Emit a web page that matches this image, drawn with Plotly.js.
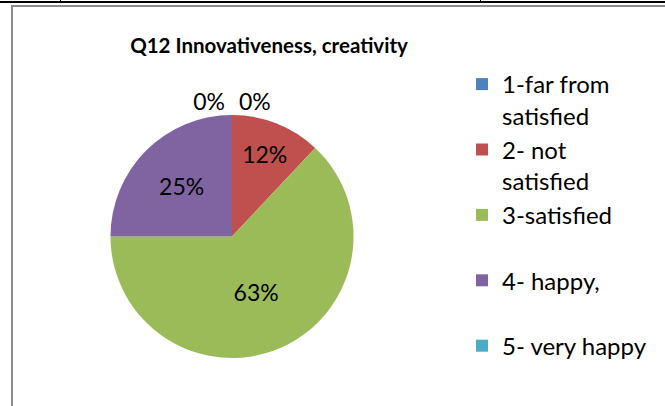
<!DOCTYPE html>
<html>
<head>
<meta charset="utf-8">
<script src="https://cdn.plot.ly/plotly-3.0.1.min.js"></script>
<style>
  html, body { margin: 0; padding: 0; background: #fff; }
  #wrap { position: relative; width: 665px; height: 406px; overflow: hidden; }
  #chart { position: absolute; left: 0; top: 0; width: 665px; height: 406px; }
  .deco { position: absolute; pointer-events: none; }
</style>
</head>
<body>
<div id="wrap">
  <div id="chart"></div>
  <div class="deco" style="left:0;top:1px;width:665px;height:2px;background:#000;"></div>
  <div class="deco" style="left:60px;top:0;width:1px;height:2px;background:#000;"></div>
  <div class="deco" style="left:480px;top:0;width:1px;height:2px;background:#000;"></div>
  <div class="deco" style="left:11px;top:5px;width:660px;height:2px;background:#8c8c8c;"></div>
  <div class="deco" style="left:11px;top:5px;width:2px;height:410px;background:#8c8c8c;"></div>
</div>
<script>
const chartTitle = "Q12 Innovativeness, creativity";
const categories = ["1-far from satisfied", "2- not satisfied", "3-satisfied", "4- happy,", "5- very happy"];
const legendLabels = ["1-far from<br>satisfied", "2- not<br>satisfied", "3-satisfied<br>&nbsp;", "4- happy,<br>&nbsp;", "5- very happy"];
const values = [0, 12, 63, 25, 0];
const colors = ["#4F81BD", "#C0504D", "#9BBB59", "#8064A2", "#4BACC6"];

const cx = 232, cy = 236.5, r = 121.5, W = 665, H = 406;

const trace = {
  type: "pie",
  labels: legendLabels,
  values: values,
  sort: false,
  direction: "clockwise",
  rotation: 0,
  marker: { colors: colors, line: { width: 0 } },
  textinfo: "percent",
  texttemplate: "%{percent:.0%}",
  textposition: values.map(v => v === 0 ? "outside" : "inside"),
  insidetextorientation: "horizontal",
  textfont: { family: "Lato, sans-serif", size: 23, color: "#000" },
  hoverinfo: "label+value+percent",
  showlegend: true,
  domain: { x: [(cx - r) / W, (cx + r) / W], y: [(H - cy - r) / H, (H - cy + r) / H] }
};

const layout = {
  width: W, height: H,
  margin: { l: 0, r: 0, t: 0, b: 0 },
  paper_bgcolor: "rgba(0,0,0,0)",
  plot_bgcolor: "rgba(0,0,0,0)",
  font: { family: "Lato, sans-serif", color: "#000" },
  title: {
    text: "<b>" + chartTitle + "</b>",
    font: { family: "Lato, sans-serif", size: 20.5, color: "#000" },
    x: 269 / W, xanchor: "center", xref: "paper",
    y: 1 - 46 / H, yanchor: "middle", yref: "container"
  },
  legend: {
    x: 462 / W, xanchor: "left",
    y: 1 - 62 / H, yanchor: "top",
    font: { family: "Lato, sans-serif", size: 24, color: "#000" },
    valign: "top",
    bgcolor: "rgba(0,0,0,0)",
    traceorder: "normal"
  }
};

Plotly.newPlot("chart", [trace], layout, { displayModeBar: false, staticPlot: true });
</script>
</body>
</html>
